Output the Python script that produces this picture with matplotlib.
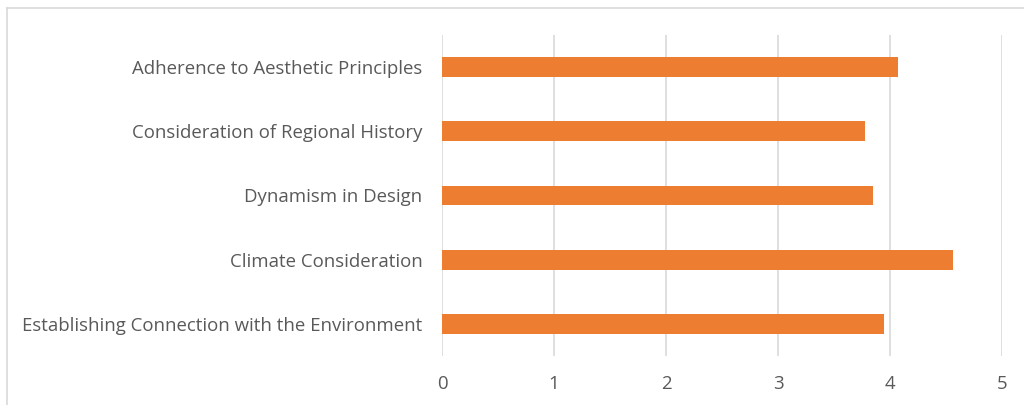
import matplotlib.pyplot as plt
from matplotlib.lines import Line2D

# survey criteria, bottom to top
criteria = ['Establishing Connection with the Environment',
            'Climate Consideration',
            'Dynamism in Design',
            'Consideration of Regional History',
            'Adherence to Aesthetic Principles']
scores = [3.95, 4.56, 3.85, 3.78, 4.07]
xticks = [0, 1, 2, 3, 4, 5]

plt.rcParams['font.family'] = ['Open Sans', 'DejaVu Sans']

fig = plt.figure(figsize=(10.24, 4.05), dpi=100)
ax = fig.add_axes([0.4316, 0.121, 0.5469, 0.7926])

ax.barh(range(len(criteria)), scores, height=0.31, color='#ED7D31', zorder=3)

ax.set_xlim(0, 5)
ax.set_ylim(-0.5, len(criteria) - 0.5)
ax.set_xticks(xticks)
ax.set_yticks(range(len(criteria)))
ax.set_yticklabels(criteria)
ax.xaxis.grid(True, color='#D9D9D9', linewidth=1.2, zorder=0)
ax.tick_params(axis='both', length=0, labelsize=13.4, labelcolor='#595959')
ax.tick_params(axis='x', pad=14)
ax.tick_params(axis='y', pad=14)
for s in ax.spines.values():
    s.set_visible(False)

# chart frame
fig.add_artist(Line2D([7 / 1024, 7 / 1024], [0, 1 - 8 / 405], transform=fig.transFigure,
                      color='#D9D9D9', linewidth=1.2))
fig.add_artist(Line2D([7 / 1024, 1], [1 - 8 / 405, 1 - 8 / 405], transform=fig.transFigure,
                      color='#D9D9D9', linewidth=1.2))

fig.savefig('out.png', dpi=100, facecolor='white')
